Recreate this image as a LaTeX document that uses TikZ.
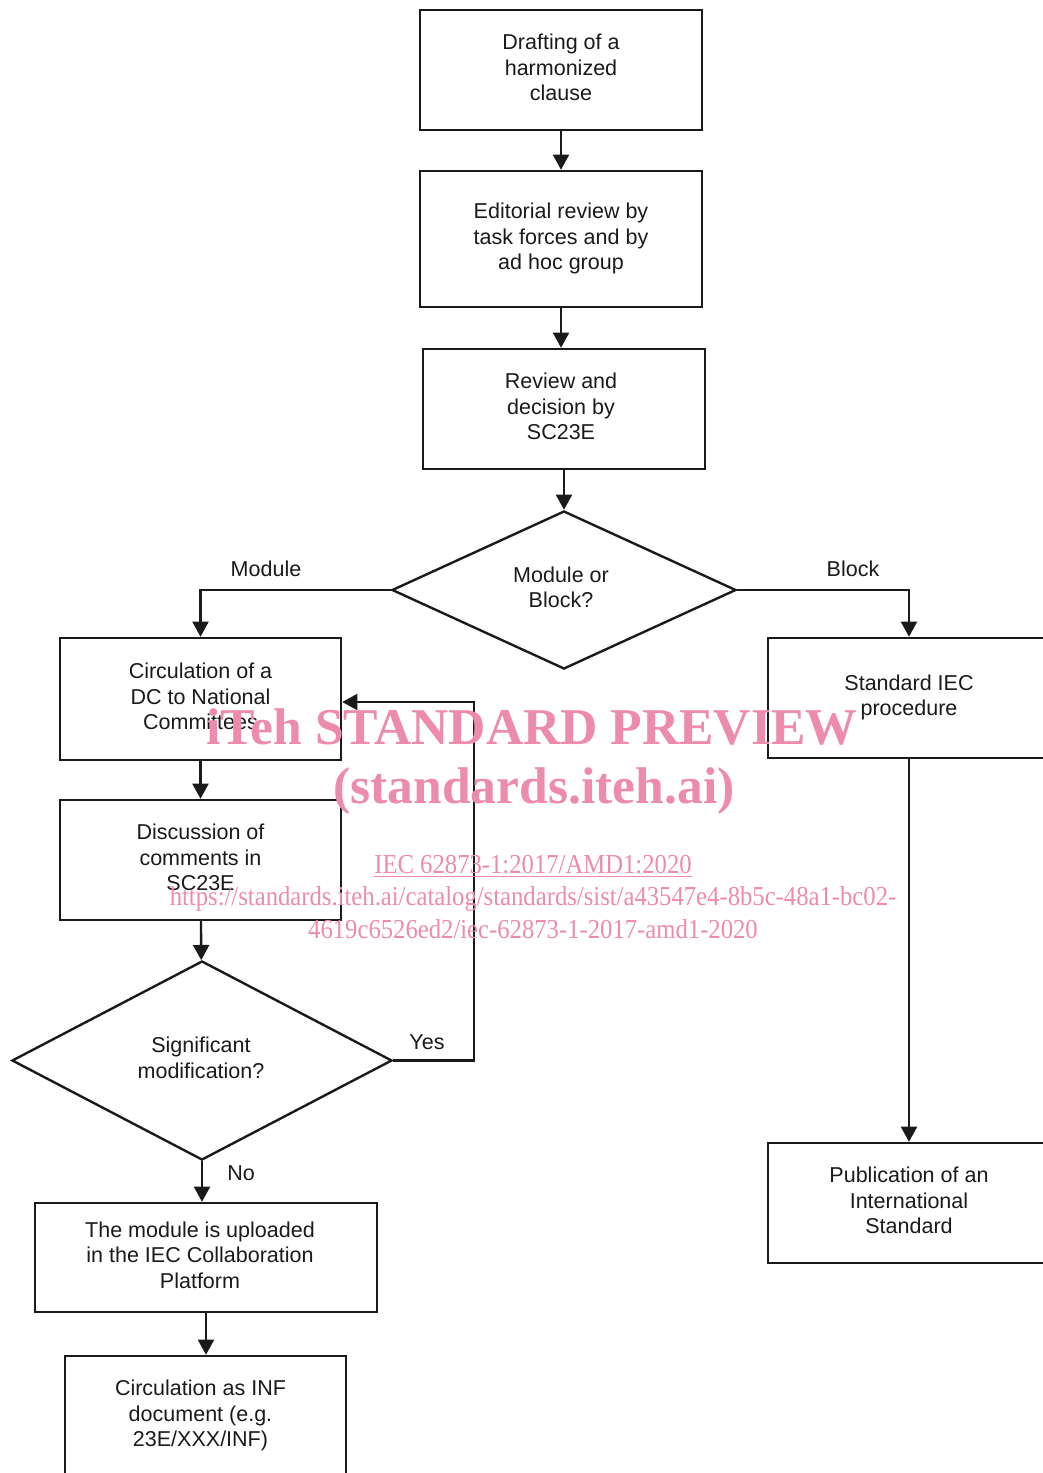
\documentclass[tikz,border=0pt]{standalone}
\usepackage{fontspec}
\setmainfont{Liberation Sans}
\newfontfamily\wmfont{Liberation Serif}
\usepackage{xcolor}
\usepackage{tikz}
\usetikzlibrary{shapes.geometric,arrows.meta}
\definecolor{ink}{HTML}{1A1A1A}
\definecolor{wmpink}{HTML}{EC8BAA}
% text block moved left by half of #1 and up by #2
\newcommand{\offtext}[3]{\raisebox{#2}{\begin{tabular}{@{}c@{\hspace{#1}}}#3\end{tabular}}}
\tikzset{
  box/.style={draw=ink, line width=1.7pt, align=center, text=ink, inner sep=0pt,
    minimum width=7.05cm, minimum height=3cm, font=\fontsize{15.3}{18.1}\selectfont},
  dia/.style={diamond, draw=ink, line width=1.7pt, align=center, text=ink, inner sep=0pt,
    font=\fontsize{15.3}{18.1}\selectfont},
  arr/.style={draw=ink, line width=1.7pt, -{Triangle[length=0.38cm,width=0.4cm]}},
  lab/.style={text=ink, font=\fontsize{15.3}{18.1}\selectfont},
  wmbig/.style={text=wmpink, font=\wmfont\bfseries\fontsize{36.7}{40}\selectfont},
  wmsmall/.style={text=wmpink, font=\wmfont\fontsize{19.5}{22}\selectfont, xscale=0.9}
}
\begin{document}
\begin{tikzpicture}[x=0.025cm, y=-0.025cm]
  \useasboundingbox (0,0) rectangle (1042,1473);

  % main column
  \node[box] (draft) at (561,70) {\offtext{0cm}{0.06cm}{Drafting of a\\harmonized\\clause}};
  \node[box, minimum height=3.4cm] (edit) at (561,239) {\offtext{0cm}{0.06cm}{Editorial review by\\task forces and by\\ad hoc group}};
  \node[box] (review) at (564,409) {\offtext{0.15cm}{0cm}{Review and\\decision by\\SC23E}};
  \node[dia, minimum width=8.6cm, minimum height=3.95cm] (modblk) at (564,590) {\offtext{0.15cm}{0.02cm}{Module or\\Block?}};

  % module branch
  \node[box, minimum width=7.025cm, minimum height=3.05cm] (circdc) at (200.5,699) {\offtext{0cm}{0.08cm}{Circulation of a\\DC to National\\Committees}};
  \node[box, minimum width=7.025cm] (discuss) at (200.5,860) {\offtext{0cm}{0.04cm}{Discussion of\\comments in\\SC23E}};
  \node[dia, minimum width=9.5cm, minimum height=4.975cm] (signif) at (202,1060.5) {\offtext{0.05cm}{0.17cm}{Significant\\modification?}};
  \node[box, minimum width=8.55cm, minimum height=2.725cm] (upload) at (206,1257.5) {\offtext{0.3cm}{0cm}{The module is uploaded\\in the IEC Collaboration\\Platform}};
  \node[box, minimum width=7.025cm] (circinf) at (205.5,1416) {\offtext{0.25cm}{0.02cm}{Circulation as INF\\document (e.g.\\23E/XXX/INF)}};

  % block branch
  \node[box] (stdiec) at (909,698) {\offtext{0cm}{0.04cm}{Standard IEC\\procedure}};
  \node[box] (publ) at (909,1203) {\offtext{0cm}{0.04cm}{Publication of an\\International\\Standard}};

  \coordinate (yesturn) at (474,702);

  \draw[arr] (draft) -- (edit);
  \draw[arr] (edit.south) -- (edit.south |- review.north);
  \draw[arr] (review) -- (modblk);
  \draw[arr] (modblk.west) -| (circdc.north);
  \draw[arr] (modblk.east) -| (stdiec.north);
  \draw[arr] (circdc) -- (discuss);
  \draw[arr] (discuss) -- (signif);
  \draw[arr] (signif.east) -| (yesturn) -- (circdc.east |- yesturn);
  \draw[arr] (signif.south) -- (signif.south |- upload.north);
  \draw[arr] (upload.south) -- (upload.south |- circinf.north);
  \draw[arr] (stdiec.south) -- (publ.north);

  \node[lab] (lmodule) at (266,569) {Module};
  \node[lab] (lblock) at (853,569) {Block};
  \node[lab] (lyes) at (427,1042) {Yes};
  \node[lab] (lno) at (241,1173) {No};

  % watermark
  \node[wmbig] (wm1) at (532,727) {iTeh STANDARD PREVIEW};
  \node[wmbig] (wm2) at (534,791) {(standards.iteh.ai)};
  \node[wmsmall] (wm3) at (533,866) {\underline{IEC 62873-1:2017/AMD1:2020}};
  \node[wmsmall] (wm4) at (533,899) {https://standards.iteh.ai/catalog/standards/sist/a43547e4-8b5c-48a1-bc02-};
  \node[wmsmall] (wm5) at (533,929) {4619c6526ed2/iec-62873-1-2017-amd1-2020};
\end{tikzpicture}
\end{document}
